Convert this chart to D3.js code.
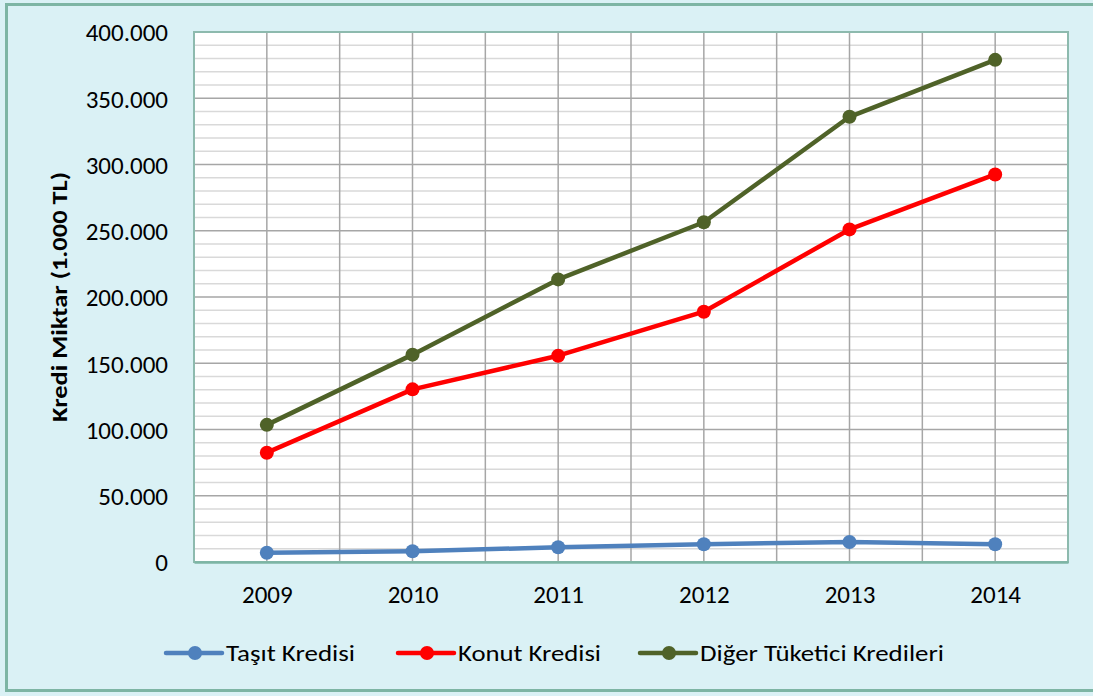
<!DOCTYPE html>
<html><head><meta charset="utf-8">
<script src="https://cdn.jsdelivr.net/npm/d3@7"></script>
<style>
html,body{margin:0;padding:0;background:#DAF1F5;}
svg{display:block;}
text{font-family:Carlito,Lato,"Open Sans",sans-serif;fill:#000;}
</style></head>
<body>
<svg id="chart" width="1093" height="696"></svg>
<script>
const years = ["2009","2010","2011","2012","2013","2014"];
const tasit = [7000, 8100, 11100, 13400, 15100, 13400];
const konut = [82500, 130300, 155700, 188900, 251000, 292500];
const diger = [103500, 156500, 213300, 256400, 336000, 379000];
const seriesNames = ["Taşıt Kredisi", "Konut Kredisi", "Diğer Tüketici Kredileri"];
const seriesColors = ["#4F81BD", "#FF0000", "#4F6228"];
const yTicks = [0,50000,100000,150000,200000,250000,300000,350000,400000];
const yTitle = "Kredi Miktar (1.000 TL)";

const svg = d3.select("#chart");
const W = 1093, H = 696;
const m = {left:194, top:32, right:1068, bottom:562};

// outer frame
svg.append("rect").attr("x",0).attr("y",0).attr("width",W).attr("height",H).attr("fill","#DAF1F5");
svg.append("rect").attr("x",6.5).attr("y",4.5).attr("width",1100).attr("height",686)
  .attr("fill","#DAF1F5").attr("stroke","#7DB5A4").attr("stroke-width",3);

const x = d3.scalePoint().domain(years).range([m.left, m.right]).padding(0.5);
const step = x.step();
const y = d3.scaleLinear().domain([0,400000]).range([m.bottom, m.top]);

// plot background
svg.append("rect").attr("x",m.left).attr("y",m.top).attr("width",m.right-m.left).attr("height",m.bottom-m.top).attr("fill","#fff");

// minor horizontal gridlines
const minor = d3.range(10000,400000,10000).filter(v=>v%50000!==0);
svg.append("g").selectAll("line").data(minor).join("line")
  .attr("x1",m.left).attr("x2",m.right).attr("y1",d=>y(d)).attr("y2",d=>y(d))
  .attr("stroke","#D9D9D9").attr("stroke-width",1.5);
// major horizontal gridlines
svg.append("g").selectAll("line").data(yTicks.filter(v=>v>0)).join("line")
  .attr("x1",m.left).attr("x2",m.right).attr("y1",d=>y(d)).attr("y2",d=>y(d))
  .attr("stroke","#A6A6A6").attr("stroke-width",1.5);
// vertical gridlines at category centres and boundaries
const vpos = [];
years.forEach((yr,i)=>{ vpos.push(x(yr)); if(i>0) vpos.push(x(yr)-step/2); });
svg.append("g").selectAll("line").data(vpos).join("line")
  .attr("x1",d=>d).attr("x2",d=>d).attr("y1",m.top).attr("y2",m.bottom)
  .attr("stroke","#A6A6A6").attr("stroke-width",1.5);

// plot border
svg.append("rect").attr("x",m.left).attr("y",m.top).attr("width",m.right-m.left).attr("height",m.bottom-m.top)
  .attr("fill","none").attr("stroke","#8DBAAE").attr("stroke-width",2);

// axes
const yAxis = d3.axisLeft(y).tickValues(yTicks).tickSize(0).tickPadding(26)
  .tickFormat(d => d===0 ? "0" : d3.format(",")(d).replace(/,/g,"."));
const gy = svg.append("g").attr("transform",`translate(${m.left},0)`).call(yAxis);
gy.select(".domain").remove();
gy.selectAll("text").style("font-size","25px").attr("dy","0.35em");

const xAxis = d3.axisBottom(x).tickSize(0).tickPadding(23);
const gx = svg.append("g").attr("transform",`translate(0,${m.bottom})`).call(xAxis);
gx.select(".domain").attr("stroke","#7DB5A4").attr("stroke-width",2.5);
gx.selectAll("text").style("font-size","25px");

// y title
svg.append("text").attr("transform",`translate(67,${(m.top+m.bottom)/2}) rotate(-90)`)
  .attr("text-anchor","middle").style("font-size","23px").style("font-weight","bold")
  .attr("textLength",250).attr("lengthAdjust","spacingAndGlyphs").text(yTitle);

// series
const allSeries = [tasit, konut, diger];
const line = d3.line().x((d,i)=>x(years[i])).y(d=>y(d));
allSeries.forEach((s,k)=>{
  svg.append("path").datum(s).attr("d",line).attr("fill","none")
    .attr("stroke",seriesColors[k]).attr("stroke-width",4.5).attr("stroke-linejoin","round");
  svg.append("g").selectAll("circle").data(s).join("circle")
    .attr("cx",(d,i)=>x(years[i])).attr("cy",d=>y(d)).attr("r",7).attr("fill",seriesColors[k]);
});

// legend
const legX = [166, 398, 640];
const legTextW = [129, 143, 244];
const legY = 653;
seriesNames.forEach((n,k)=>{
  const g = svg.append("g");
  g.append("line").attr("x1",legX[k]).attr("x2",legX[k]+56).attr("y1",legY).attr("y2",legY)
    .attr("stroke",seriesColors[k]).attr("stroke-width",4.5).attr("stroke-linecap","round");
  g.append("circle").attr("cx",legX[k]+29).attr("cy",legY).attr("r",7).attr("fill",seriesColors[k]);
  g.append("text").attr("x",legX[k]+60).attr("y",legY).attr("dy","0.35em")
    .style("font-size","23px").attr("textLength",legTextW[k]).attr("lengthAdjust","spacingAndGlyphs").text(n);
});
</script>
</body></html>
